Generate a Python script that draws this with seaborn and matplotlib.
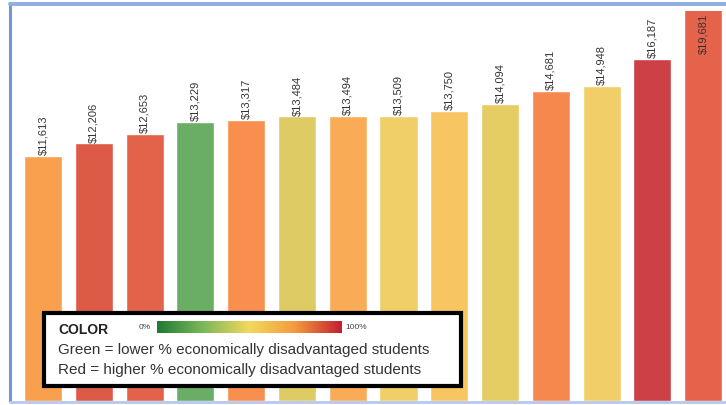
import matplotlib
matplotlib.use('Agg')
import matplotlib.pyplot as plt
import numpy as np
import pandas as pd
import seaborn as sns
from matplotlib.colors import LinearSegmentedColormap
from matplotlib.patches import Rectangle
from matplotlib.lines import Line2D

# --- data ---
districts = [f"D{i}" for i in range(1, 15)]
spending = [11613, 12206, 12653, 13229, 13317, 13484, 13494,
            13509, 13750, 14094, 14681, 14948, 16187, 19681]
bar_colors = ["#F9A04E", "#DD5A47", "#E3624A", "#6AAD64", "#F98F4E",
              "#DFCB64", "#F9AB55", "#F1CF68", "#F7C662", "#E5CD64",
              "#F7884D", "#F2CE68", "#CD4045", "#E5634A"]
legend_lines = ["Green = lower % economically disadvantaged students",
                "Red = higher % economically disadvantaged students"]

df = pd.DataFrame({"district": districts, "spending": spending})

sns.set_style("white")
plt.rcParams['font.family'] = ['Liberation Sans', 'DejaVu Sans']

W, H = 726, 406
fig = plt.figure(figsize=(W / 100, H / 100), dpi=100)
ax = fig.add_axes([11 / W, 4 / H, 715 / W, 390 / H])


def fy(py):
    # pixel row (from top) -> figure fraction
    return (H - py) / H


sns.barplot(data=df, x="district", y="spending", hue="district",
            palette=bar_colors, legend=False, width=0.75, saturation=1,
            ax=ax)

ymax = 18480
ax.set_ylim(0, ymax)
ax.set_xlim(-0.63, 13.45)
ax.set_xticks([])
ax.set_yticks([])
ax.set_xlabel("")
ax.set_ylabel("")
for s in ax.spines.values():
    s.set_visible(False)

# value labels, rotated
for i, v in enumerate(spending):
    txt = f"${v:,}"
    if v < ymax * 0.97:
        ax.text(i, v + 90, txt, rotation=90, ha='center', va='bottom',
                fontsize=8, color="#333333")
    else:
        ax.text(i, ymax - 100, txt, rotation=90, ha='center', va='top',
                fontsize=8, color="#333333")

# outer blue frame (left + top), light bottom line
fig.add_artist(Line2D([10 / W, 10 / W], [fy(402), fy(4)],
                      color="#6E98D9", lw=2.2, transform=fig.transFigure))
fig.add_artist(Line2D([10 / W, 1.0], [fy(4.5), fy(4.5)],
                      color="#8FAEE2", lw=2.8, transform=fig.transFigure))
fig.add_artist(Line2D([10 / W, 1.0], [fy(403), fy(403)],
                      color="#B5C9EC", lw=2.0, transform=fig.transFigure))

# colour key box
fig.add_artist(Rectangle((44 / W, fy(387)), 417 / W, 73 / H,
                         transform=fig.transFigure, facecolor="white",
                         edgecolor="black", lw=3.0, zorder=5))
fig.text(58 / W, fy(330), "COLOR", fontsize=10, fontweight='bold',
         color="#222222", va='center', zorder=6)
fig.text(139 / W, fy(328), "0%", fontsize=6, color="#444444",
         va='center', zorder=6)
fig.text(345 / W, fy(328), "100%", fontsize=6, color="#444444",
         va='center', zorder=6)
for k, line in enumerate(legend_lines):
    fig.text(58 / W, fy(350 + k * 20), line, fontsize=11,
             color="#333333", va='center', zorder=6)

key_cmap = LinearSegmentedColormap.from_list(
    "key", ["#1E7A34", "#7DB85A", "#F3D95E", "#F29A3E", "#C21F30"])
cax = fig.add_axes([157 / W, fy(334), 185 / W, 12 / H], zorder=7)
cax.imshow(np.linspace(0, 1, 256)[None, :], aspect='auto', cmap=key_cmap)
cax.set_axis_off()

fig.savefig("out.png", dpi=100)
plt.close(fig)
